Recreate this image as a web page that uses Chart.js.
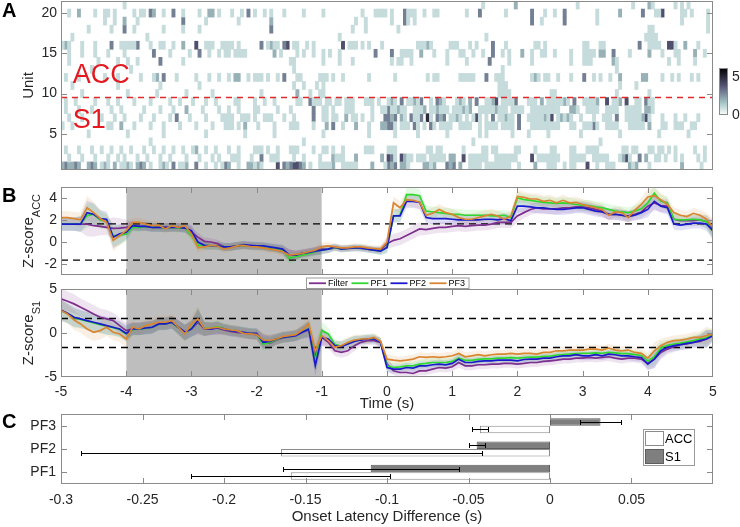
<!DOCTYPE html>
<html><head><meta charset="utf-8">
<script src="https://cdn.jsdelivr.net/npm/chart.js@4.4.1/dist/chart.umd.min.js"></script>
<style>
html,body{margin:0;padding:0;background:#fff;}
#wrap{position:relative;width:740px;height:527px;overflow:hidden;background:#fff;}
canvas{position:absolute;left:0;}
</style></head><body>
<div id="wrap">
<canvas id="cA" width="740" height="176" style="top:0px"></canvas>
<canvas id="cB1" width="740" height="100" style="top:176px"></canvas>
<canvas id="cB2" width="740" height="140" style="top:276px"></canvas>
<canvas id="cC" width="740" height="116" style="top:411px"></canvas>
</div>
<script>
// ---------------- DATA ----------------
// Panel A: per unit (index 0 = unit 1) list of "timeBin:value" for non-empty 50 ms bins (bin 0 = -5.00..-4.95 s)
const heatBinStart = -5, heatBinWidth = 0.05, heatColorMax = 6.2;
const unitTicks = [5, 10, 15, 20];
const unitSplit = 9.5;
const unitRows = [
"0:2 1:3 2:2 3:2 4:3 5:2 8:2 9:3 10:2 12:1 13:2 14:1 16:2 18:1 19:1 20:2 21:1 23:2 24:3 25:2 27:1 30:1 31:2 32:1 34:3 36:1 37:1 38:2 41:3 44:1 47:1 49:1 50:3 51:2 54:1 57:2 58:2 59:1 60:2 61:1 66:4 68:3 69:2 70:3 71:4 72:4 73:3 74:2 76:1 79:1 80:1 81:1 82:1 83:2 86:1 87:1 88:1 89:1 90:1 95:2 99:1 100:3 101:2 102:3 104:2 105:2 106:1 111:2 112:2 113:1 114:2 118:3 119:2 120:3 122:2 125:1 126:1 127:1 128:1 130:1 131:1 132:1 133:1 134:1 135:1 136:1 137:1 140:1 145:2 149:1 150:1 151:1 154:1 156:1 157:1 161:4 164:1 167:1 168:1 169:1 174:2 175:1 176:2 180:1 190:2 196:1",
"2:1 6:1 10:1 14:1 17:1 19:1 23:1 26:1 30:1 33:1 38:1 42:1 46:1 48:1 52:1 53:1 54:1 58:1 61:3 64:1 65:1 66:1 71:1 74:1 79:1 83:2 84:1 85:1 86:1 90:2 98:2 100:4 101:3 102:1 104:4 105:2 106:1 107:1 109:1 110:1 111:1 113:1 114:1 115:1 116:1 117:1 119:2 120:2 123:4 125:1 126:1 127:1 128:1 129:1 130:1 133:1 134:1 135:1 136:1 137:1 138:1 139:1 144:4 146:1 147:1 148:1 149:1 150:1 151:1 152:1 156:1 157:1 158:1 159:1 160:1 163:1 164:1 165:1 166:1 167:1 171:1 172:2 173:4 174:1 177:3 179:2 182:1 183:1 185:1 188:1 190:1 195:1 197:1",
"1:1 5:1 9:1 12:1 15:1 18:1 21:1 25:1 28:1 31:1 34:1 37:1 40:1 41:2 44:1 47:1 51:1 54:1 59:1 60:1 61:1 63:1 66:1 70:1 71:1 72:1 77:1 80:1 81:1 83:1 86:1 93:1 94:1 95:1 100:1 101:1 102:1 112:1 113:1 115:1 116:1 123:1 129:1 130:1 132:1 133:1 139:1 140:1 145:1 150:1 151:1 156:1 157:1 161:1 162:1 163:1 164:1 172:1 173:1 175:1 176:1 180:1 181:1 183:1 184:1 186:1 188:1 194:1 197:1",
"27:1 74:1 126:1 165:1",
"8:1 20:1 31:1 44:1 56:1 65:1 80:1 94:1 102:1 109:1 118:1 128:1 130:1 138:1 143:1 149:1 159:1 171:1 183:1 192:1",
"0:1 3:1 14:1 15:1 18:2 22:1 27:1 31:1 36:1 41:1 46:1 50:1 51:1 52:1 54:1 56:2 60:1 65:1 70:1 71:1 72:1 77:1 81:2 83:3 86:1 90:2 94:1 98:2 99:2 100:3 101:3 102:1 104:1 105:1 106:1 108:3 109:1 111:1 113:3 114:1 116:1 117:1 118:1 119:1 122:1 123:1 124:1 125:1 128:1 130:1 131:1 132:1 133:1 135:1 136:1 137:1 138:1 140:3 144:1 145:1 146:1 147:1 148:1 149:1 150:1 151:1 152:1 156:1 157:1 160:1 161:1 162:1 163:3 164:1 167:1 168:1 169:1 170:1 174:1 175:1 176:1 177:1 178:1 180:2 184:1 185:1 188:1 189:1 190:1 193:1 194:1",
"2:1 6:1 12:1 16:1 19:1 24:1 28:1 33:1 35:3 39:1 44:1 49:1 50:1 51:1 52:1 55:1 56:1 57:1 59:1 62:1 63:1 64:1 68:1 71:1 77:3 80:1 81:1 83:1 84:1 87:2 89:1 90:1 92:1 95:1 99:3 100:3 101:2 102:3 104:2 105:1 107:3 108:1 109:1 110:3 112:5 113:1 115:3 116:2 117:3 119:1 120:1 121:2 122:1 124:1 126:1 127:4 128:1 130:1 132:3 134:1 135:1 136:2 137:1 138:1 140:3 143:1 144:1 145:1 146:1 147:1 148:2 149:1 150:4 152:1 153:2 154:1 155:2 156:1 159:1 163:1 166:1 167:1 168:1 170:3 173:1 174:1 175:1 176:1 177:1 178:2 179:4 180:1 184:1 188:1 191:1 195:1",
"1:1 5:1 9:1 15:1 18:1 25:1 30:1 34:1 38:2 43:1 48:1 51:1 54:1 59:1 60:1 66:1 70:1 77:3 80:1 81:1 83:1 87:1 88:1 89:1 95:1 98:1 99:1 100:3 101:1 102:1 103:2 104:1 105:1 108:1 109:1 110:1 111:2 113:1 114:1 115:2 116:1 117:1 118:1 120:1 121:1 122:1 123:2 124:1 125:2 128:1 129:1 130:1 131:1 132:1 133:2 134:1 135:1 136:1 138:1 139:1 140:1 141:1 144:1 145:1 146:1 147:1 148:1 149:1 150:1 151:1 152:1 156:2 157:2 158:1 161:1 162:1 163:1 164:1 167:1 168:1 169:1 170:1 173:1 174:1 175:1 176:1 177:1 179:2 180:2 181:1",
"1:1 4:1 10:1 14:1 17:1 22:1 27:1 33:1 36:1 40:1 44:1 47:1 53:1 54:1 59:1 62:1 65:1 72:1 73:1 76:3 77:1 78:1 79:1 81:1 82:1 84:1 85:1 87:1 88:1 89:1 93:1 94:1 95:1 97:1 100:1 101:2 102:1 104:3 106:1 107:1 108:2 109:1 110:3 113:1 115:3 116:2 117:1 121:1 122:2 123:1 125:2 127:3 130:1 131:1 132:2 133:4 135:1 136:1 137:1 138:1 139:3 143:1 144:1 145:1 147:2 149:1 150:1 151:1 152:1 153:1 154:2 155:1 157:3 160:1 161:1 162:1 163:1 164:2 167:4 169:1 170:1 171:2 173:4 176:1 177:1 179:3 180:1 181:1",
"6:1 20:1 29:1 38:1 46:1 61:1 72:2 76:1 79:1 80:1 134:1 135:1 136:1 137:1 150:1 151:1 170:1 180:1",
"3:1 17:1 30:1 42:1 71:1 74:1 78:1 80:1 134:1 135:1 136:1 171:1 176:1",
"1:1 5:1 13:1 17:1 24:1 28:1 29:2 31:3 35:1 41:1 45:1 48:1 51:1 53:2 54:2 57:1 59:1 60:1 61:1 63:1 66:1 68:3 72:1 73:1 79:1 80:1 81:1 83:1 86:1 94:1 102:1 112:1 114:1 115:1 122:1 123:1 124:1 125:1 126:1 130:3 133:1 134:1 135:1 144:1 145:2 146:1 148:1 149:1 152:1 156:1 160:3 163:1 165:1 168:1 171:2 178:2 179:2 184:1 187:1 189:1 193:1 195:1",
"9:1 21:1 71:1 135:1 170:1",
"2:1 11:1 17:1 20:1 23:1 30:3 37:1 70:1 71:1 80:1 85:1 89:1 101:1 103:1 104:1 107:1 118:1 124:1 131:3 137:1 144:1 156:1 160:1 161:1 162:1 169:2 170:1 186:1 189:1 194:1",
"2:1 6:1 10:1 14:1 19:1 28:3 33:1 39:1 42:3 45:1 48:1 50:1 51:1 53:1 54:1 55:1 56:1 65:2 67:1 72:1 74:1 77:1 80:1 82:1 85:1 96:3 101:3 104:1 105:1 106:1 107:1 110:2 114:1 118:1 122:1 123:1 126:1 129:1 132:3 135:1 137:1 141:2 144:1 147:1 148:1 151:1 156:1 160:1 161:1 162:1 163:1 165:2 166:2 169:3 174:1 180:2 184:1 188:1 189:1 194:2 197:1",
"0:1 1:2 2:1 6:1 10:1 15:3 18:1 19:1 20:1 21:1 22:1 23:3 27:1 30:1 31:1 34:1 37:2 41:4 44:1 45:1 46:1 49:1 50:1 51:1 52:1 54:1 61:3 63:1 64:2 65:1 66:1 68:3 69:4 71:1 72:1 75:1 77:1 86:4 88:1 89:1 90:1 92:1 94:1 98:1 109:1 110:1 111:1 112:2 113:1 119:1 120:1 121:1 125:1 127:1 132:3 136:1 145:1 146:1 148:1 160:1 161:1 165:1 166:1 177:3 180:1 181:1 182:1 183:1 186:4 187:4 188:1 191:2 195:1",
"3:1 26:1 85:1 130:1 179:1 180:1 181:1 182:1",
"8:1 15:1 19:3 22:1 31:1 37:1 42:1 64:3 89:1 93:1 103:1 180:1 181:1 198:1",
"13:1 16:1 19:2 23:1 37:3 44:1 54:1 64:2 90:1 93:1 101:1 105:3 106:1 108:1 144:3 147:1 154:3 164:1 190:1 198:1",
"2:1 5:2 10:1 13:1 14:1 16:1 22:1 24:1 25:1 27:3 28:2 31:1 34:3 37:1 42:1 45:2 46:2 48:1 52:1 55:1 57:3 59:1 62:1 64:1 68:1 74:1 80:1 92:1 96:1 97:1 98:1 99:1 101:1 105:3 106:1 107:1 108:1 111:1 114:1 115:1 124:1 128:3 136:1 144:3 148:1 151:1 154:3 164:1 171:2 178:3 182:1 183:1 184:4 190:1 191:1 193:1 198:1",
"19:1 129:1 139:2 158:1 175:1 180:2 181:1 188:1 190:1 192:1"
];

// Panel B: time axis and z-scores
const timePoints = [
-5,-4.9,-4.8,-4.7,-4.6,-4.5,-4.4,-4.3,-4.2,-4.1,
-4,-3.9,-3.8,-3.7,-3.6,-3.5,-3.4,-3.3,-3.2,-3.1,
-3,-2.9,-2.8,-2.7,-2.6,-2.5,-2.4,-2.3,-2.2,-2.1,
-2,-1.9,-1.8,-1.7,-1.6,-1.5,-1.4,-1.3,-1.2,-1.1,
-1,-0.9,-0.8,-0.7,-0.6,-0.5,-0.4,-0.3,-0.2,-0.1,
0,0.1,0.2,0.3,0.4,0.5,0.6,0.7,0.8,0.9,
1,1.1,1.2,1.3,1.4,1.5,1.6,1.7,1.8,1.9,
2,2.1,2.2,2.3,2.4,2.5,2.6,2.7,2.8,2.9,
3,3.1,3.2,3.3,3.4,3.5,3.6,3.7,3.8,3.9,
4,4.1,4.2,4.3,4.4,4.5,4.6,4.7,4.8,4.9,
5];
const timeTicks = [-5,-4,-3,-2,-1,0,1,2,3,4,5];
const stimWindow = [-4, -1];
const zThreshold = 1.645;
const accZTicks = [-2, 0, 2, 4];
const s1ZTicks = [-5, 0, 5];
const seriesNames = ['Filter', 'PF1', 'PF2', 'PF3'];

const accFilter = [
1.63,1.63,1.63,1.63,1.63,1.48,1.42,1.33,1.24,1.27,
1.33,1.42,1.42,1.42,1.33,1.33,1.33,1.33,1.33,1.27,
0.89,0.44,0.06,0.00,-0.15,-0.44,-0.44,-0.36,-0.30,-0.36,
-0.36,-0.41,-0.53,-0.59,-0.71,-1.19,-1.19,-1.04,-0.95,-0.83,
-0.65,-0.65,-0.53,-0.59,-0.59,-0.53,-0.59,-0.65,-0.74,-0.74,
-0.15,0.15,0.30,0.59,0.89,1.19,1.13,1.24,1.33,1.33,
1.42,1.48,1.42,1.48,1.54,1.54,1.63,1.78,1.78,1.78,
2.37,2.67,2.96,3.11,3.02,3.02,3.02,3.11,3.11,3.20,
3.20,3.11,2.96,2.81,2.52,2.52,2.43,2.37,2.52,2.73,
3.26,3.56,3.32,3.26,2.07,1.93,1.93,1.93,2.01,1.84,
1.19];
const accPF1 = [
1.63,1.63,1.63,1.63,2.40,2.52,2.00,1.90,0.59,0.59,
0.74,1.33,1.33,1.42,1.33,1.33,1.27,1.33,1.27,1.27,
0.59,-0.30,-0.30,-0.36,-0.36,-0.44,-0.44,-0.36,-0.30,-0.36,
-0.41,-0.41,-0.50,-0.59,-0.71,-1.48,-1.33,-1.19,-1.07,-0.89,
-0.74,-0.65,-0.50,-0.65,-0.59,-0.53,-0.53,-0.65,-0.74,-0.83,
-0.50,2.37,2.43,4.30,4.30,4.21,2.81,2.73,2.67,2.61,
2.52,2.52,2.43,2.43,2.43,2.43,2.37,2.37,2.43,2.22,
4.00,3.85,3.79,3.70,3.61,3.56,3.50,3.56,3.50,3.41,
3.32,3.32,3.20,3.11,2.96,2.81,2.73,2.67,2.81,3.02,
3.56,4.44,3.70,3.56,2.07,2.01,2.01,2.07,2.01,1.84,
0.89];
const accPF2 = [
1.63,1.63,1.63,1.63,2.67,2.52,2.13,2.07,0.44,0.74,
0.89,1.48,1.42,1.42,1.33,1.33,1.33,1.33,1.33,1.27,
1.04,0.00,-0.30,-0.36,-0.36,-0.44,-0.44,-0.36,-0.24,-0.30,
-0.36,-0.36,-0.44,-0.53,-0.65,-1.19,-1.19,-1.04,-0.95,-0.83,
-0.74,-0.65,-0.44,-0.65,-0.59,-0.53,-0.53,-0.65,-0.74,-0.83,
-0.50,2.37,2.37,3.70,3.70,3.61,2.22,2.13,2.13,2.13,
2.07,2.01,2.01,2.01,2.01,2.07,2.07,2.01,2.13,1.93,
3.26,3.26,3.20,3.11,3.11,3.02,2.96,2.96,3.02,3.11,
3.11,2.96,2.81,2.73,2.52,2.52,2.43,2.31,2.43,2.67,
2.96,3.70,3.26,3.11,1.63,1.54,1.63,1.72,1.72,1.63,
1.04];
const accPF3 = [
2.22,2.22,2.13,2.01,3.11,2.67,2.13,1.78,0.15,0.59,
1.04,1.78,1.78,1.63,1.48,1.54,1.19,1.48,1.33,1.48,
0.74,-0.53,-0.44,-0.30,-0.36,-0.65,-0.53,-0.36,-0.30,-0.41,
-0.44,-0.53,-0.65,-0.74,-0.89,-1.19,-1.13,-1.04,-0.89,-0.74,
-0.44,-0.36,-0.44,-0.53,-0.53,-0.44,-0.44,-0.53,-0.59,-0.65,
0.00,3.56,3.11,3.85,3.79,3.61,2.43,2.61,2.96,2.67,
2.52,2.22,2.07,2.07,2.22,2.37,2.52,2.37,2.07,2.37,
4.15,4.06,3.91,3.91,3.70,3.79,3.56,3.79,3.56,3.61,
3.41,3.26,3.11,2.96,2.43,2.73,2.67,2.22,2.90,3.41,
4.09,4.21,3.85,3.41,2.67,2.43,2.31,2.61,2.43,2.07,
1.33];
const accSem = [
0.6,0.6,0.6,0.7,1.1,1.0,0.8,0.7,1.0,0.9,
0.7,0.4,0.4,0.4,0.4,0.4,0.4,0.4,0.4,0.4,
0.5,0.4,0.35,0.35,0.35,0.35,0.35,0.35,0.35,0.35,
0.35,0.35,0.35,0.35,0.4,0.5,0.4,0.35,0.35,0.35,
0.4,0.35,0.3,0.3,0.3,0.3,0.3,0.3,0.3,0.35,
0.5,0.6,0.6,0.6,0.6,0.6,0.5,0.5,0.5,0.5,
0.5,0.5,0.5,0.5,0.5,0.5,0.5,0.5,0.5,0.5,
0.6,0.5,0.5,0.5,0.5,0.5,0.5,0.5,0.5,0.5,
0.5,0.5,0.5,0.5,0.5,0.5,0.5,0.5,0.5,0.6,
0.7,0.7,0.6,0.6,0.5,0.5,0.5,0.5,0.5,0.6,
0.8];

const s1Filter = [
3.88,3.61,3.31,2.93,2.55,2.17,1.79,1.60,1.41,0.84,
0.27,0.46,0.46,0.57,0.65,1.03,1.03,1.22,0.65,0.08,
0.46,1.22,0.46,0.46,0.57,0.34,0.19,0.08,0.00,-0.11,
-0.19,-0.87,-1.18,-0.80,-0.55,-0.42,-0.30,0.08,0.34,-2.60,
-0.49,-1.06,-2.02,-2.21,-2.02,-1.44,-1.06,-0.87,-0.87,-1.06,
-3.54,-4.30,-4.49,-4.49,-4.60,-4.30,-4.30,-4.11,-3.92,-3.99,
-3.84,-3.35,-3.73,-3.73,-3.61,-3.61,-3.54,-3.54,-3.46,-3.46,
-3.54,-3.46,-3.35,-3.35,-3.23,-3.16,-3.08,-2.97,-2.97,-2.85,
-2.85,-2.78,-2.85,-2.78,-2.70,-2.85,-2.97,-2.85,-2.85,-2.97,
-3.46,-2.97,-2.21,-1.83,-1.56,-1.33,-1.25,-1.06,-0.95,-0.68,
-0.30];
const s1PF1 = [
2.55,2.20,1.75,1.55,1.35,1.15,0.95,0.80,0.60,0.40,
-0.10,0.40,0.45,0.55,0.65,1.00,1.05,1.20,0.60,0.00,
0.50,1.40,0.50,0.55,0.72,0.50,0.30,0.20,0.05,-0.05,
-0.10,-1.25,-1.10,-0.75,-0.50,-0.45,-0.30,0.10,0.50,-3.20,
0.27,-0.11,-1.30,-1.50,-1.20,-0.90,-0.75,-0.68,-0.65,-1.00,
-3.73,-3.92,-3.84,-3.73,-3.73,-3.54,-3.46,-3.35,-3.35,-3.35,
-3.23,-2.85,-3.10,-3.10,-3.00,-2.95,-2.95,-2.85,-2.85,-2.80,
-2.85,-2.80,-2.75,-2.75,-2.65,-2.65,-2.50,-2.45,-2.40,-2.35,
-2.32,-2.30,-2.25,-2.30,-2.20,-2.25,-2.35,-2.35,-2.45,-2.55,
-3.20,-2.70,-1.71,-1.40,-1.25,-1.15,-1.00,-0.85,-0.70,-0.55,
-0.20];
const s1PF2 = [
2.62,2.24,1.79,1.60,1.41,1.22,1.03,0.84,0.65,0.46,
-0.04,0.46,0.46,0.57,0.65,1.03,1.03,1.22,0.65,0.08,
0.46,1.41,0.46,0.46,0.57,0.46,0.27,0.19,0.08,-0.04,
-0.04,-1.06,-0.95,-0.68,-0.49,-0.42,-0.30,0.08,0.46,-3.70,
-0.49,-0.68,-1.44,-1.56,-1.25,-0.95,-0.80,-0.68,-0.68,-1.06,
-3.92,-4.11,-4.11,-3.92,-3.99,-3.73,-3.73,-3.61,-3.54,-3.61,
-3.46,-2.97,-3.35,-3.35,-3.23,-3.16,-3.16,-3.08,-3.08,-3.08,
-3.16,-3.01,-2.97,-2.97,-2.85,-2.85,-2.70,-2.59,-2.59,-2.47,
-2.59,-2.59,-2.47,-2.59,-2.40,-2.47,-2.59,-2.59,-2.70,-2.78,
-3.54,-2.97,-2.02,-1.63,-1.44,-1.33,-1.18,-1.06,-0.87,-0.68,
-0.30];
const s1PF3 = [
2.55,2.17,1.48,1.03,0.46,0.08,0.27,0.65,0.08,-0.11,
-0.68,0.65,0.46,0.84,1.03,1.22,1.22,1.41,0.65,-0.11,
1.03,1.60,0.46,0.57,0.65,0.46,0.34,0.27,-0.04,-0.11,
-0.19,-0.80,-0.87,-0.68,-0.42,-0.30,-0.19,0.34,1.03,-2.02,
-0.30,-0.87,-1.63,-1.44,-1.06,-0.80,-0.68,-0.68,-0.49,-0.95,
-2.97,-3.08,-3.16,-3.08,-2.97,-2.70,-2.78,-2.70,-2.78,-2.70,
-2.59,-2.32,-2.70,-2.59,-2.47,-2.59,-2.47,-2.40,-2.40,-2.32,
-2.40,-2.32,-2.32,-2.40,-2.21,-2.21,-2.02,-2.02,-1.94,-1.94,
-1.94,-1.83,-1.83,-1.94,-1.71,-1.94,-2.02,-1.94,-2.21,-2.32,
-2.85,-2.02,-1.44,-1.06,-0.87,-0.80,-0.68,-0.49,-0.49,-0.30,
-0.11];
const s1Sem = [
1.2,1.1,1.1,1.0,1.0,1.0,1.0,1.0,0.9,0.9,
0.9,0.7,0.7,0.7,0.7,0.7,0.7,0.7,0.8,0.9,
0.9,1.4,0.8,0.7,0.7,0.6,0.6,0.6,0.6,0.6,
0.6,0.8,0.7,0.6,0.6,0.6,0.6,0.7,0.9,1.2,
1.0,0.7,0.6,0.6,0.6,0.6,0.5,0.5,0.5,0.5,
0.6,0.5,0.5,0.5,0.5,0.5,0.5,0.5,0.5,0.5,
0.5,0.6,0.5,0.5,0.5,0.5,0.5,0.5,0.5,0.5,
0.5,0.5,0.5,0.5,0.5,0.5,0.5,0.5,0.5,0.5,
0.5,0.5,0.5,0.5,0.5,0.5,0.5,0.5,0.5,0.5,
0.7,1.0,0.8,0.6,0.6,0.6,0.6,0.6,0.7,1.0,
0.6];

// Panel C: onset latency difference (s)
const latencyGroups = ['PF3', 'PF2', 'PF1'];
const accLatency = [-0.043, -0.165, -0.159];
const accLatencyErr = [0.005, 0.123, 0.061];
const s1Latency = [0.031, -0.045, -0.110];
const s1LatencyErr = [0.0125, 0.005, 0.054];
const latencyTicks = [-0.3, -0.25, -0.2, -0.15, -0.1, -0.05, 0, 0.05];

// ---------------- STYLE ----------------
const FONT = "'Liberation Sans', Arial, Helvetica, sans-serif";
const TICK_COLOR = '#262626';
const AXIS_COLOR = '#8a8a8a';
const SERIES_COLORS = ['#7E2F8E', '#2fd82f', '#1a1acc', '#da8530'];
Chart.defaults.font.family = FONT;
Chart.defaults.color = TICK_COLOR;

function hexA(hex, a) {
  const n = parseInt(hex.slice(1), 16);
  return `rgba(${(n >> 16) & 255},${(n >> 8) & 255},${n & 255},${a})`;
}
function boneR(v) {
  const x = 1 - Math.min(Math.max(v / heatColorMax, 0), 1);
  const r = Math.min(1, x / 0.375);
  const g = Math.min(1, Math.max(0, (x - 0.375) / 0.375));
  const b = Math.max(0, (x - 0.75) / 0.25);
  const R = (7 * x + b) / 8, G = (7 * x + g) / 8, B = (7 * x + r) / 8;
  return `rgb(${Math.round(R * 255)},${Math.round(G * 255)},${Math.round(B * 255)})`;
}
const tickFont = {family: FONT, size: 14};
function fixY(width, ticks) {
  return {
    afterBuildTicks: s => { s.ticks = ticks.map(v => ({value: v})); },
    afterFit: s => { s.width = width; s.paddingTop = 0; s.paddingBottom = 0; }
  };
}
function fixX(height, ticks) {
  return {
    afterBuildTicks: s => { if (ticks) s.ticks = ticks.map(v => ({value: v})); },
    afterFit: s => { s.height = height; s.paddingLeft = 0; s.paddingRight = 0; }
  };
}

// ---------------- PLUGINS ----------------
const boxTicks = {
  id: 'boxTicks',
  afterDatasetsDraw(chart, args, o) {
    const {ctx, chartArea: a} = chart;
    const L = 6;
    ctx.save();
    ctx.strokeStyle = AXIS_COLOR; ctx.lineWidth = 1;
    ctx.beginPath();
    if (o.x) {
      const s = chart.scales.x;
      s.ticks.forEach((t, i) => {
        const p = Math.round(s.getPixelForTick(i)) + 0.5;
        if (p < a.left + 2 || p > a.right - 2) return;
        ctx.moveTo(p, a.bottom); ctx.lineTo(p, a.bottom - L);
        ctx.moveTo(p, a.top); ctx.lineTo(p, a.top + L);
      });
    }
    if (o.y) {
      const s = chart.scales.y;
      s.ticks.forEach((t, i) => {
        const p = Math.round(s.getPixelForTick(i)) + 0.5;
        if (p < a.top + 2 || p > a.bottom - 2) return;
        ctx.moveTo(a.left, p); ctx.lineTo(a.left + L, p);
        ctx.moveTo(a.right, p); ctx.lineTo(a.right - L, p);
      });
    }
    ctx.stroke();
    ctx.strokeRect(Math.round(a.left) + 0.5, Math.round(a.top) + 0.5,
                   Math.round(a.right - a.left) - 1, Math.round(a.bottom - a.top) - 1);
    ctx.restore();
  }
};
const panelLetter = {
  id: 'panelLetter',
  afterDraw(chart, args, o) {
    const ctx = chart.ctx;
    ctx.save();
    ctx.font = `bold 20px ${FONT}`; ctx.fillStyle = '#000';
    ctx.textAlign = 'left'; ctx.textBaseline = 'alphabetic';
    ctx.fillText(o.text, o.x, o.y);
    ctx.restore();
  }
};
const subLabel = {
  id: 'subLabel',
  afterDraw(chart, args, o) {
    if (!o.main) return;
    const {ctx, chartArea: a} = chart;
    const cy = (a.top + a.bottom) / 2;
    ctx.save();
    ctx.fillStyle = TICK_COLOR;
    ctx.font = `15px ${FONT}`; const w1 = ctx.measureText(o.main).width;
    ctx.font = `11px ${FONT}`; const w2 = ctx.measureText(o.sub).width;
    ctx.translate(o.baseX, cy); ctx.rotate(-Math.PI / 2);
    ctx.textAlign = 'left'; ctx.textBaseline = 'alphabetic';
    const u0 = -(w1 + w2) / 2;
    ctx.font = `15px ${FONT}`; ctx.fillText(o.main, u0, 0);
    ctx.font = `11px ${FONT}`; ctx.fillText(o.sub, u0 + w1, 6.5);
    ctx.restore();
  }
};
const heatExtras = {
  id: 'heatExtras',
  afterDatasetsDraw(chart, args, o) {
    const {ctx, scales} = chart;
    ctx.save();
    ctx.fillStyle = '#e4191f'; ctx.font = `27px ${FONT}`;
    ctx.textAlign = 'left'; ctx.textBaseline = 'alphabetic';
    o.labels.forEach(l => ctx.fillText(l.text, scales.x.getPixelForValue(l.x), scales.y.getPixelForValue(l.y)));
    // colorbar
    const cb = o.colorbar;
    for (let i = 0; i < cb.h; i++) {
      ctx.fillStyle = boneR((cb.h - i - 0.5) / cb.h * heatColorMax);
      ctx.fillRect(cb.x, cb.y + i, cb.w, 1);
    }
    ctx.strokeStyle = AXIS_COLOR; ctx.lineWidth = 1;
    ctx.strokeRect(cb.x + 0.5, cb.y + 0.5, cb.w - 1, cb.h - 1);
    ctx.fillStyle = TICK_COLOR; ctx.font = `14px ${FONT}`; ctx.textBaseline = 'middle';
    cb.ticks.forEach(v => ctx.fillText(String(v), cb.x + cb.w + 4, cb.y + cb.h - v / heatColorMax * cb.h));
    ctx.restore();
  }
};
const seriesLegend = {
  id: 'seriesLegend',
  afterDraw(chart, args, o) {
    if (!o.show) return;
    const {ctx, chartArea: a} = chart;
    const items = chart.data.datasets.filter(d => d.isSeries);
    ctx.save();
    ctx.font = `9px ${FONT}`;
    const lineW = 17, gap = 2, after = 3.5, padL = 3;
    let total = padL;
    items.forEach(d => { total += lineW + gap + ctx.measureText(d.label).width + after; });
    const h = 10.5, top = a.top - 11.5;
    const left = Math.round((a.left + a.right) / 2 - total / 2);
    ctx.fillStyle = '#fff'; ctx.fillRect(left, top, total, h);
    ctx.strokeStyle = '#9a9a9a'; ctx.lineWidth = 1;
    ctx.strokeRect(left + 0.5, top + 0.5, total, h);
    let x = left + padL;
    const cy = top + h / 2 + 0.5;
    items.forEach(d => {
      ctx.strokeStyle = d.borderColor; ctx.lineWidth = 1.8;
      ctx.beginPath(); ctx.moveTo(x, cy); ctx.lineTo(x + lineW, cy); ctx.stroke();
      x += lineW + gap;
      ctx.fillStyle = '#000'; ctx.textBaseline = 'middle'; ctx.textAlign = 'left';
      ctx.fillText(d.label, x, cy + 0.5);
      x += ctx.measureText(d.label).width + after;
    });
    ctx.restore();
  }
};
const errorBars = {
  id: 'errorBars',
  afterDatasetsDraw(chart) {
    const {ctx} = chart; const xs = chart.scales.x;
    ctx.save(); ctx.strokeStyle = '#000'; ctx.lineWidth = 1;
    chart.data.datasets.forEach((ds, di) => {
      const meta = chart.getDatasetMeta(di);
      meta.data.forEach((bar, j) => {
        const m = ds.data[j], e = ds.errors[j];
        const x1 = Math.round(xs.getPixelForValue(m - e)) + 0.5, x2 = Math.round(xs.getPixelForValue(m + e)) + 0.5;
        const y = Math.round(bar.y) + 0.5;
        ctx.beginPath();
        ctx.moveTo(x1, y); ctx.lineTo(x2, y);
        ctx.moveTo(x1, y - 2.5); ctx.lineTo(x1, y + 2.5);
        ctx.moveTo(x2, y - 2.5); ctx.lineTo(x2, y + 2.5);
        ctx.stroke();
      });
    });
    ctx.restore();
  }
};
const barLegend = {
  id: 'barLegend',
  afterDraw(chart, args, o) {
    const {ctx, chartArea: a} = chart;
    const ds = o.order.map(i => chart.data.datasets[i]);
    const w = 51, h = 36;
    const left = Math.round(a.right - 19 - w), top = Math.round(a.top + 15);
    ctx.save();
    ctx.fillStyle = '#fff'; ctx.fillRect(left, top, w, h);
    ctx.strokeStyle = '#9a9a9a'; ctx.lineWidth = 1;
    ctx.strokeRect(left + 0.5, top + 0.5, w, h);
    ds.forEach((d, i) => {
      const sy = top + 2 + i * 18;
      ctx.fillStyle = d.backgroundColor; ctx.fillRect(left + 2.5, sy + 0.5, 18, 14);
      ctx.strokeStyle = d.borderColor; ctx.strokeRect(left + 2.5, sy + 0.5, 18, 14);
      ctx.fillStyle = '#000'; ctx.font = `13px ${FONT}`;
      ctx.textAlign = 'left'; ctx.textBaseline = 'middle';
      ctx.fillText(d.label, left + 22, sy + 8);
    });
    ctx.restore();
  }
};

const baseOpts = {responsive: false, animation: false, devicePixelRatio: 1, events: []};

// ---------------- PANEL A ----------------
const levelDatasets = [1, 2, 3, 4, 5].map(level => ({
  type: 'bar', data: [], backgroundColor: boneR(level), borderWidth: 0,
  grouped: false, barPercentage: 1, categoryPercentage: 1, order: 2
}));
unitRows.forEach((row, ui) => {
  row.trim().split(/\s+/).forEach(p => {
    const [bin, val] = p.split(':').map(Number);
    levelDatasets[val - 1].data.push({x: heatBinStart + (bin + 0.5) * heatBinWidth, y: [ui + 0.5, ui + 1.5]});
  });
});
new Chart(document.getElementById('cA'), {
  type: 'bar',
  data: {datasets: [...levelDatasets, {
    type: 'line', data: [{x: timeTicks[0], y: unitSplit}, {x: timeTicks[timeTicks.length - 1], y: unitSplit}],
    borderColor: '#e02a2a', borderWidth: 1.6, borderDash: [6, 5], pointRadius: 0, order: 1
  }]},
  options: {...baseOpts,
    layout: {padding: {left: 0, right: 27, top: 1, bottom: 6}},
    plugins: {legend: {display: false}, tooltip: {enabled: false},
      boxTicks: {x: false, y: true},
      panelLetter: {text: 'A', x: 2, y: 17},
      heatExtras: {labels: [{text: 'ACC', x: -4.82, y: 11.3}, {text: 'S1', x: -4.82, y: 5.74}],
                   colorbar: {x: 719, y: 68, w: 9, h: 47, ticks: [5, 0]}}},
    scales: {
      x: {type: 'linear', min: -5, max: 5, offset: false, grid: {display: false, drawTicks: false}, border: {display: false},
          ticks: {display: false}, ...fixX(0, null)},
      y: {type: 'linear', min: 0.5, max: 21.5, grid: {display: false, drawTicks: false}, border: {display: false},
          ticks: {font: tickFont, color: TICK_COLOR, padding: 4, callback: v => String(v)},
          title: {display: true, text: 'Unit', font: {family: FONT, size: 15}, color: TICK_COLOR, padding: {top: 20, bottom: 0}},
          ...fixY(61, unitTicks)}
    }
  },
  plugins: [boxTicks, heatExtras, panelLetter]
});

// ---------------- PANEL B ----------------
function makeZChart(id, seriesVals, sem, yMin, yMax, yTicks, cfg) {
  const datasets = [];
  seriesVals.forEach((vals, k) => {
    datasets.push({type: 'line', label: seriesNames[k], isSeries: true,
      data: timePoints.map((t, i) => ({x: t, y: vals[i]})),
      borderColor: SERIES_COLORS[k], borderWidth: 1.7, pointRadius: 0, fill: false, order: 4 - k});
  });
  seriesVals.forEach((vals, k) => {
    datasets.push({type: 'line', data: timePoints.map((t, i) => ({x: t, y: vals[i] + sem[i]})),
      borderWidth: 0, borderColor: 'rgba(0,0,0,0)', pointRadius: 0, fill: false, order: 20});
    datasets.push({type: 'line', data: timePoints.map((t, i) => ({x: t, y: vals[i] - sem[i]})),
      borderWidth: 0, borderColor: 'rgba(0,0,0,0)', pointRadius: 0, fill: '-1',
      backgroundColor: hexA(SERIES_COLORS[k], 0.13), order: 20});
  });
  [zThreshold, -zThreshold].forEach(th => datasets.push({type: 'line',
    data: [{x: timeTicks[0], y: th}, {x: timeTicks[timeTicks.length - 1], y: th}],
    borderColor: '#000', borderWidth: 1.3, borderDash: [7, 5], pointRadius: 0, fill: false, order: 10}));
  datasets.push({type: 'line', data: [{x: stimWindow[0], y: yMax}, {x: stimWindow[1], y: yMax}],
    borderWidth: 0, borderColor: 'rgba(0,0,0,0)', pointRadius: 0, fill: 'start', backgroundColor: '#bebebe', order: 100});

  return new Chart(document.getElementById(id), {
    type: 'line',
    data: {datasets},
    options: {...baseOpts,
      layout: {padding: {left: 0, right: 27, top: cfg.padTop, bottom: cfg.padBottom}},
      plugins: {legend: {display: false}, tooltip: {enabled: false},
        boxTicks: {x: true, y: true},
        panelLetter: cfg.letter || {text: '', x: 0, y: 0},
        subLabel: {main: 'Z-score', sub: cfg.sub, baseX: 33},
        seriesLegend: {show: !!cfg.legend}},
      scales: {
        x: {type: 'linear', min: -5, max: 5, grid: {display: false, drawTicks: false}, border: {display: false},
            ticks: {display: cfg.xLabels, font: tickFont, color: TICK_COLOR, padding: 7, maxRotation: 0, callback: v => String(v)},
            title: {display: cfg.xLabels, text: 'Time (s)', font: {family: FONT, size: 15}, color: TICK_COLOR, padding: {top: 0, bottom: 3}},
            ...fixX(cfg.xHeight, timeTicks)},
        y: {type: 'linear', min: yMin, max: yMax, grid: {display: false, drawTicks: false}, border: {display: false},
            ticks: {font: tickFont, color: TICK_COLOR, padding: 4, callback: v => String(v)},
            ...fixY(61, yTicks)}
      }
    },
    plugins: [boxTicks, subLabel, seriesLegend, panelLetter]
  });
}
makeZChart('cB1', [accFilter, accPF1, accPF2, accPF3], accSem, -3, 5, accZTicks,
  {padTop: 11, padBottom: 1, xHeight: 0, xLabels: false, sub: 'ACC', letter: {text: 'B', x: 2, y: 26}});
makeZChart('cB2', [s1Filter, s1PF1, s1PF2, s1PF3], s1Sem, -5, 5, s1ZTicks,
  {padTop: 13, padBottom: 0, xHeight: 39, xLabels: true, sub: 'S1', legend: true});

// ---------------- PANEL C ----------------
new Chart(document.getElementById('cC'), {
  type: 'bar',
  data: {labels: latencyGroups, datasets: [
    {label: 'S1', data: s1Latency, errors: s1LatencyErr, backgroundColor: '#7f7f7f', borderColor: '#5e5e5e',
     borderWidth: 1, borderSkipped: false, barPercentage: 1, categoryPercentage: 0.64},
    {label: 'ACC', data: accLatency, errors: accLatencyErr, backgroundColor: '#ffffff', borderColor: '#8c8c8c',
     borderWidth: 1, borderSkipped: false, barPercentage: 1, categoryPercentage: 0.64}
  ]},
  options: {...baseOpts, indexAxis: 'y',
    layout: {padding: {left: 0, right: 27, top: 3, bottom: 0}},
    plugins: {legend: {display: false}, tooltip: {enabled: false},
      boxTicks: {x: true, y: true}, barLegend: {order: [1, 0]},
      panelLetter: {text: 'C', x: 2, y: 17}},
    scales: {
      x: {type: 'linear', min: -0.3, max: 0.1, grid: {display: false, drawTicks: false}, border: {display: false},
          ticks: {font: tickFont, color: TICK_COLOR, padding: 8, maxRotation: 0, callback: v => String(v)},
          title: {display: true, text: 'Onset Latency Difference (s)', font: {family: FONT, size: 15}, color: TICK_COLOR, padding: {top: 0, bottom: 1}},
          ...fixX(43, latencyTicks)},
      y: {type: 'category', grid: {display: false, drawTicks: false}, border: {display: false},
          ticks: {font: tickFont, color: TICK_COLOR, padding: 5},
          afterFit: s => { s.width = 61; s.paddingTop = 0; s.paddingBottom = 0; }}
    }
  },
  plugins: [boxTicks, errorBars, barLegend, panelLetter]
});
</script>
</body></html>
